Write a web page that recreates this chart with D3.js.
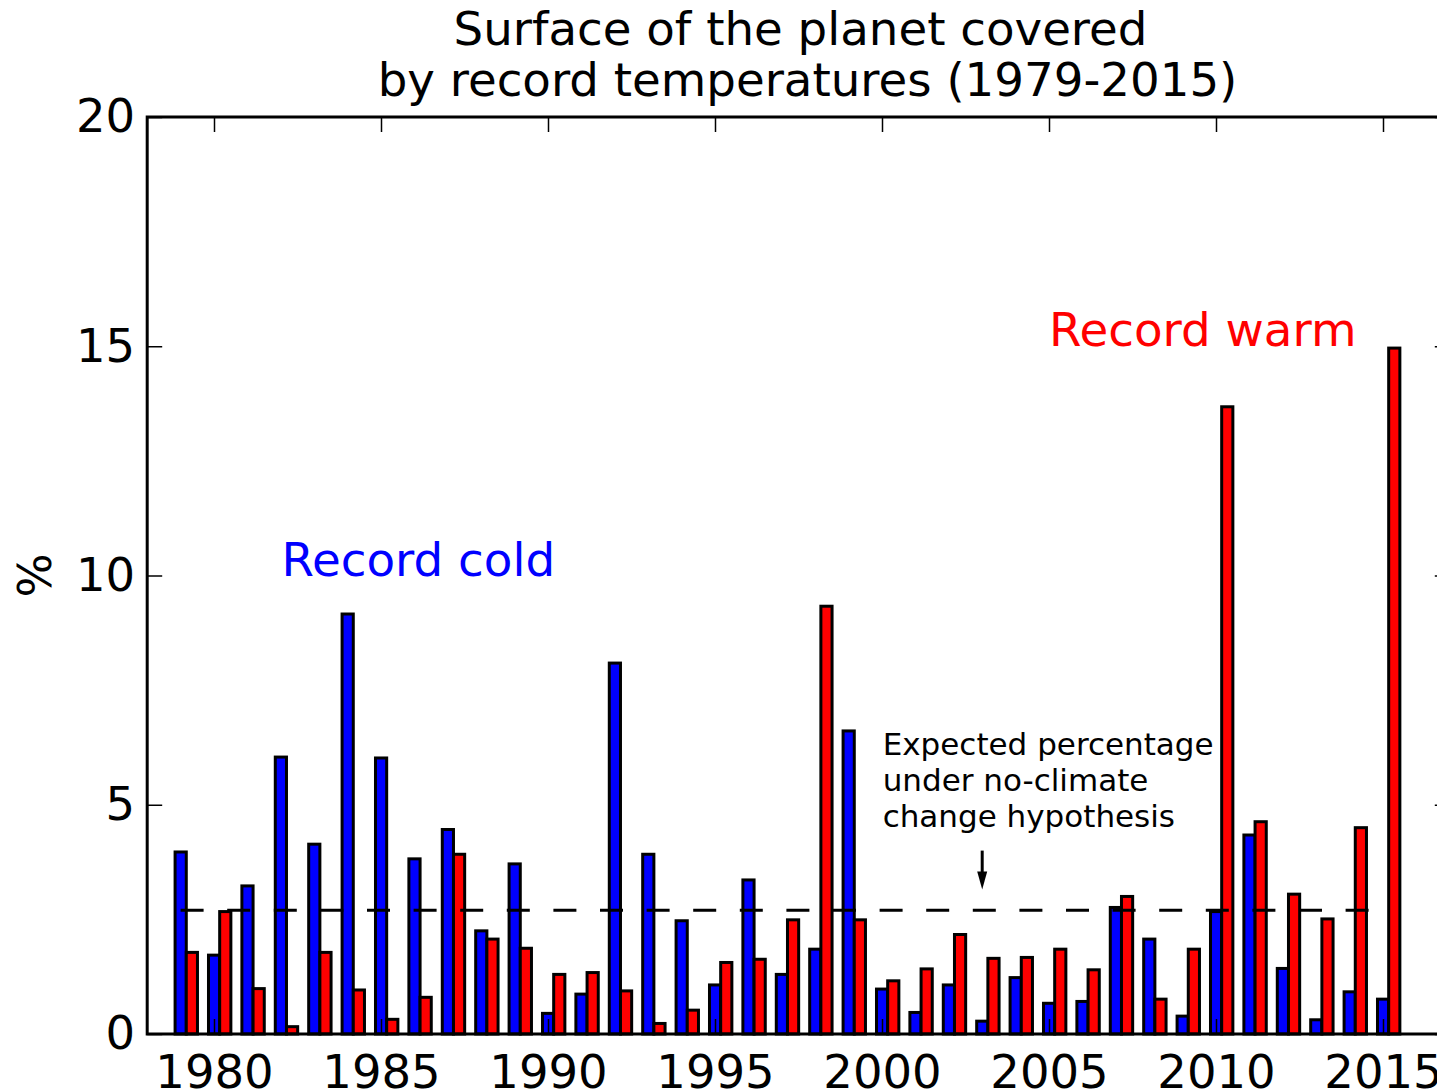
<!DOCTYPE html>
<html>
<head>
<meta charset="utf-8">
<script src="https://cdn.jsdelivr.net/npm/d3@7"></script>
<style>
  body { margin: 0; background: #fff; }
  svg { display: block; font-family: "DejaVu Sans", sans-serif; }
</style>
</head>
<body>
<div id="chart"></div>
<script>
// data (% of planet surface)
const years = [1979, 1980, 1981, 1982, 1983, 1984, 1985, 1986, 1987, 1988,
    1989, 1990, 1991, 1992, 1993, 1994, 1995, 1996, 1997, 1998,
    1999, 2000, 2001, 2002, 2003, 2004, 2005, 2006, 2007, 2008,
    2009, 2010, 2011, 2012, 2013, 2014, 2015];

const recordCold = [3.97, 1.72, 3.23, 6.04, 4.14, 9.16, 6.02, 3.82, 4.46, 2.25,
    3.71, 0.45, 0.87, 8.09, 3.92, 2.47, 1.07, 3.36, 1.30, 1.85,
    6.61, 0.98, 0.47, 1.07, 0.28, 1.23, 0.67, 0.71, 2.76, 2.07,
    0.39, 2.67, 4.34, 1.43, 0.31, 0.92, 0.76];

const recordWarm = [1.78, 2.67, 0.99, 0.16, 1.78, 0.96, 0.32, 0.80, 3.92, 2.07,
    1.87, 1.30, 1.34, 0.94, 0.23, 0.52, 1.56, 1.63, 2.49, 9.33,
    2.49, 1.16, 1.42, 2.17, 1.65, 1.67, 1.85, 1.40, 3.00, 0.76,
    1.85, 13.68, 4.63, 3.05, 2.51, 4.50, 14.96];

const expected = 2.7;
const xTicks = [1980, 1985, 1990, 1995, 2000, 2005, 2010, 2015];
const yTicks = [0, 5, 10, 15, 20];
const titleLines = ["Surface of the planet covered", "by record temperatures (1979-2015)"];
const noteLines = ["Expected percentage", "under no-climate", "change hypothesis"];

const width = 1437;
const height = 1091;
const margin = { top: 117, left: 147.2 };
const innerWidth = 1302.6;
const innerHeight = 917;

const svg = d3.select("#chart")
    .append("svg")
    .attr("width", width)
    .attr("height", height);

const inner = svg.append("g")
    .attr("transform", `translate(${margin.left},${margin.top})`);

// scales
const xScale = d3.scaleLinear()
    .domain([1978, 2017])
    .range([0, innerWidth]);

const yScale = d3.scaleLinear()
    .domain([0, 20])
    .range([innerHeight, 0]);

const barW = 0.335;
const rows = years.map((y, i) => ({ year: y, cold: recordCold[i], warm: recordWarm[i] }));

// bars
inner.selectAll("rect.cold")
    .data(rows)
    .join("rect")
    .attr("class", "cold")
    .attr("x", d => xScale(d.year - 0.165))
    .attr("width", xScale(1978 + barW) - xScale(1978))
    .attr("y", d => yScale(d.cold))
    .attr("height", d => yScale(0) - yScale(d.cold))
    .attr("fill", "#0000ff")
    .attr("stroke", "#000")
    .attr("stroke-width", 3);

inner.selectAll("rect.warm")
    .data(rows)
    .join("rect")
    .attr("class", "warm")
    .attr("x", d => xScale(d.year + 0.17))
    .attr("width", xScale(1978 + barW) - xScale(1978))
    .attr("y", d => yScale(d.warm))
    .attr("height", d => yScale(0) - yScale(d.warm))
    .attr("fill", "#ff0000")
    .attr("stroke", "#000")
    .attr("stroke-width", 3);

// expected line
inner.append("line")
    .attr("x1", xScale(years[0]))
    .attr("x2", xScale(years[years.length - 1]))
    .attr("y1", yScale(expected))
    .attr("y2", yScale(expected))
    .attr("stroke", "#000")
    .attr("stroke-width", 3)
    .attr("stroke-dasharray", "23,23.6");

// axes, ticks pointing inward
const styleAxis = g => {
    g.select(".domain").remove();
    g.selectAll(".tick line").attr("stroke", "#000").attr("stroke-width", 1.5);
    g.selectAll("text")
        .attr("fill", "#000")
        .attr("font-size", "46.5px")
        .attr("font-family", "DejaVu Sans");
};

inner.append("g")
    .attr("transform", `translate(0,${innerHeight})`)
    .call(d3.axisBottom(xScale).tickValues(xTicks).tickFormat(d3.format("d"))
        .tickSizeInner(-15).tickSizeOuter(0).tickPadding(21))
    .call(styleAxis);

inner.append("g")
    .call(d3.axisTop(xScale).tickValues(xTicks).tickFormat("")
        .tickSizeInner(-15).tickSizeOuter(0))
    .call(styleAxis);

inner.append("g")
    .call(d3.axisLeft(yScale).tickValues(yTicks).tickFormat(d3.format("d"))
        .tickSizeInner(-15).tickSizeOuter(0).tickPadding(12))
    .call(styleAxis);

inner.append("g")
    .attr("transform", `translate(${innerWidth},0)`)
    .call(d3.axisRight(yScale).tickValues(yTicks).tickFormat("")
        .tickSizeInner(-15).tickSizeOuter(0))
    .call(styleAxis);

// frame
inner.append("rect")
    .attr("width", innerWidth)
    .attr("height", innerHeight)
    .attr("fill", "none")
    .attr("stroke", "#000")
    .attr("stroke-width", 3);

// series labels
inner.append("text")
    .attr("x", xScale(1982.02))
    .attr("y", yScale(10))
    .attr("font-size", "46.8px")
    .attr("fill", "#0000ff")
    .text("Record cold");

inner.append("text")
    .attr("x", xScale(2005))
    .attr("y", yScale(15))
    .attr("font-size", "46.8px")
    .attr("fill", "#ff0000")
    .text("Record warm");

// note + arrow
inner.append("text")
    .attr("x", xScale(2000.02))
    .attr("y", yScale(6.08))
    .attr("font-size", "31px")
    .attr("fill", "#000")
    .selectAll("tspan")
    .data(noteLines)
    .join("tspan")
    .attr("x", xScale(2000.02))
    .attr("dy", (d, i) => i === 0 ? 0 : 36)
    .text(d => d);

const ax = xScale(2003);
const tip = yScale(3.15);
inner.append("line")
    .attr("x1", ax).attr("x2", ax)
    .attr("y1", yScale(4.0)).attr("y2", tip - 12)
    .attr("stroke", "#000")
    .attr("stroke-width", 3);

inner.append("path")
    .attr("d", `M${ax - 5},${tip - 18}L${ax + 5},${tip - 18}L${ax},${tip}Z`)
    .attr("fill", "#000");

// title
const titleX = margin.left + innerWidth / 2;
svg.append("text")
    .attr("x", titleX)
    .attr("y", 45)
    .attr("text-anchor", "middle")
    .attr("font-size", "46.7px")
    .attr("fill", "#000")
    .selectAll("tspan")
    .data(titleLines)
    .join("tspan")
    .attr("x", (d, i) => titleX + (i === 0 ? 2 : 9))
    .attr("dy", (d, i) => i === 0 ? 0 : 51)
    .text(d => d);

// y label
svg.append("text")
    .attr("transform", `translate(51,${margin.top + yScale(10)}) rotate(-90)`)
    .attr("text-anchor", "middle")
    .attr("font-size", "46.5px")
    .attr("fill", "#000")
    .text("%");
</script>
</body>
</html>
